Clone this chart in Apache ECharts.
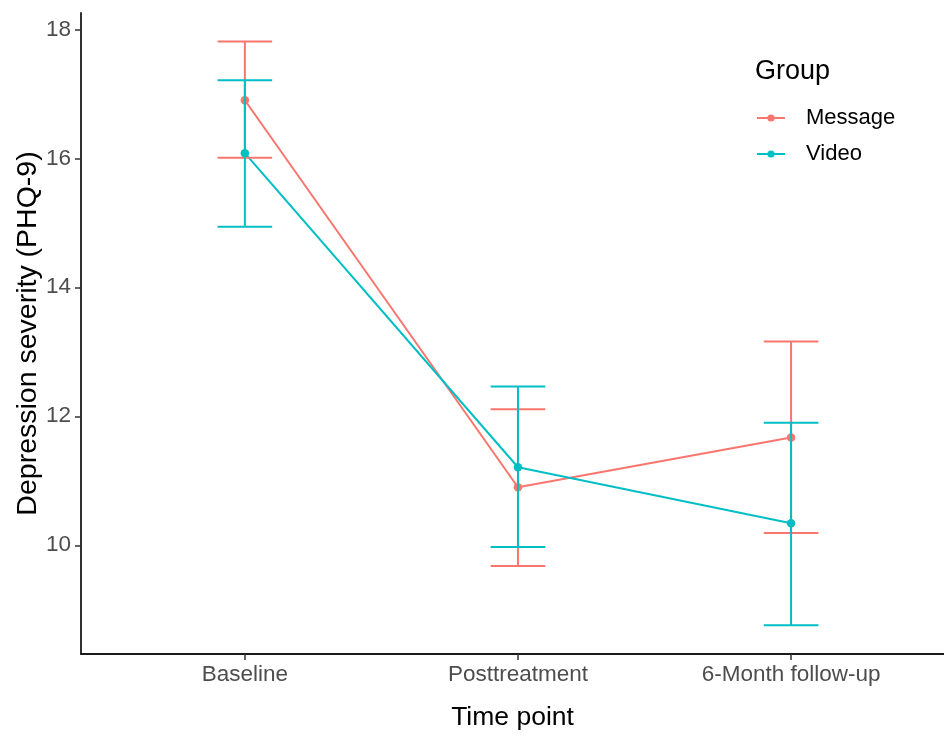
<!DOCTYPE html>
<html>
<head>
<meta charset="utf-8">
<script src="https://cdn.jsdelivr.net/npm/echarts@6/dist/echarts.min.js"></script>
<style>html,body{margin:0;padding:0;background:#fff}#c{width:944px;height:735px}</style>
</head>
<body>
<div id="c"></div>
<script>
const categories = ['Baseline', 'Posttreatment', '6-Month follow-up'];
const groups = ['Message', 'Video'];
const messageMean = [16.90, 10.90, 11.67];
const messageLow = [16.01, 9.68, 10.19];
const messageHigh = [17.81, 12.11, 13.16];
const videoMean = [16.08, 11.21, 10.34];
const videoLow = [14.94, 9.975, 8.76];
const videoHigh = [17.21, 12.46, 11.90];
const yTicks = [10, 12, 14, 16, 18];

const colors = ['#F8766D', '#00BFC4'];
const font = 'Liberation Sans, Arial, sans-serif';

function pts(arr) { return arr.map((v, i) => [i, v]); }
function bars(lo, hi) { return lo.map((v, i) => [i, v, hi[i]]); }

function errRender(color) {
  return function (params, api) {
    const x = api.value(0), lo = api.value(1), hi = api.value(2);
    const pl = api.coord([x, lo]), ph = api.coord([x, hi]);
    const hw = api.size([0.1, 0])[0];
    const st = { stroke: color, lineWidth: 2 };
    return {
      type: 'group',
      children: [
        { type: 'line', shape: { x1: pl[0], y1: pl[1], x2: ph[0], y2: ph[1] }, style: st },
        { type: 'line', shape: { x1: ph[0] - hw, y1: ph[1], x2: ph[0] + hw, y2: ph[1] }, style: st },
        { type: 'line', shape: { x1: pl[0] - hw, y1: pl[1], x2: pl[0] + hw, y2: pl[1] }, style: st }
      ]
    };
  };
}

const chart = echarts.init(document.getElementById('c'), null, { renderer: 'canvas' });
chart.setOption({
  animation: false,
  backgroundColor: '#fff',
  textStyle: { fontFamily: font },
  grid: { left: 81, right: 0, top: 13, bottom: 81, containLabel: false, outerBoundsMode: 'none' },
  xAxis: {
    type: 'value', min: -0.6, max: 2.56,
    splitLine: { show: false },
    axisLine: { show: true, onZero: false, lineStyle: { color: '#1a1a1a', width: 1.8 } },
    axisTick: { show: true, length: 6, lineStyle: { color: '#333', width: 1.5 }, customValues: [0, 1, 2] },
    axisLabel: { customValues: [0, 1, 2], formatter: v => categories[Math.round(v)], color: '#4D4D4D', fontSize: 22.5, margin: 9, fontFamily: font },
    name: 'Time point', nameLocation: 'middle', nameGap: 50, nameMoveOverlap: false,
    nameTextStyle: { color: '#000', fontSize: 26.5, fontFamily: font }
  },
  yAxis: {
    type: 'value', min: 8.314, max: 18.253,
    splitLine: { show: false },
    axisLine: { show: true, onZero: false, lineStyle: { color: '#1a1a1a', width: 1.8 } },
    axisTick: { show: true, length: 6, lineStyle: { color: '#333', width: 1.5 }, customValues: yTicks },
    axisLabel: { customValues: yTicks, color: '#4D4D4D', fontSize: 22.5, margin: 10, fontFamily: font },
    name: 'Depression severity (PHQ-9)', nameLocation: 'middle', nameGap: 38, nameMoveOverlap: false,
    nameTextStyle: { color: '#000', fontSize: 28.5, fontFamily: font }
  },
  legend: {
    orient: 'vertical', left: 751, top: 102, itemWidth: 28, itemHeight: 9, itemGap: 14,
    data: groups,
    textStyle: { color: '#000', fontSize: 22, fontFamily: font, padding: [0, 0, 0, 16] }
  },
  graphic: [
    { type: 'text', left: 755, top: 58, style: { text: 'Group', fontSize: 27, fill: '#000', fontFamily: font } }
  ],
  series: [
    { name: groups[0], type: 'line', data: pts(messageMean), color: colors[0], symbol: 'circle', symbolSize: 8.5, lineStyle: { width: 2 }, z: 3 },
    { name: groups[1], type: 'line', data: pts(videoMean), color: colors[1], symbol: 'circle', symbolSize: 8.5, lineStyle: { width: 2 }, z: 3 },
    { name: groups[0], type: 'custom', data: bars(messageLow, messageHigh), renderItem: errRender(colors[0]), color: colors[0], z: 4, encode: { x: 0, y: [1, 2] } },
    { name: groups[1], type: 'custom', data: bars(videoLow, videoHigh), renderItem: errRender(colors[1]), color: colors[1], z: 4, encode: { x: 0, y: [1, 2] } }
  ]
});
</script>
</body>
</html>
